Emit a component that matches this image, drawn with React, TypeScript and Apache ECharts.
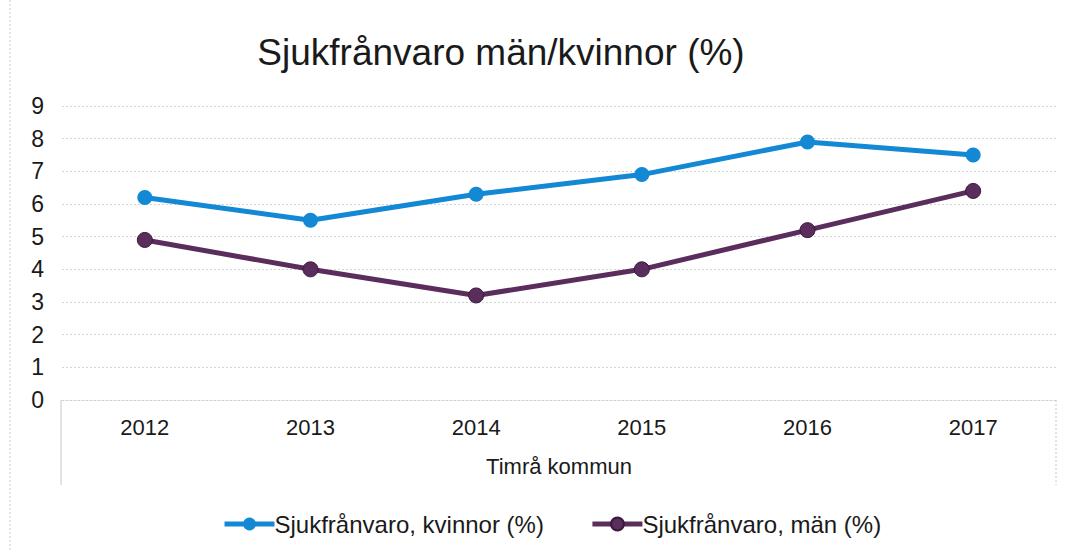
import React, { useEffect, useRef } from "react";
import * as echarts from "echarts";

const years = ["2012", "2013", "2014", "2015", "2016", "2017"];
const kvinnor = [6.2, 5.5, 6.3, 6.9, 7.9, 7.5];
const man = [4.9, 4.0, 3.2, 4.0, 5.2, 6.4];
const seriesNames = ["Sjukfrånvaro, kvinnor (%)", "Sjukfrånvaro, män (%)"];
const titleText = "Sjukfrånvaro män/kvinnor (%)";
const outerCategory = "Timrå kommun";

export default function App() {
  const ref = useRef<HTMLDivElement>(null);
  useEffect(() => {
    if (!ref.current) return;
    const chart = echarts.init(ref.current, null, { renderer: "svg" });
    const font = "Liberation Sans, Arial, sans-serif";
    chart.setOption({
      animation: false,
      backgroundColor: "#ffffff",
      textStyle: { fontFamily: font },
      title: {
        text: titleText,
        left: 496,
        textAlign: "center",
        top: 29,
        textStyle: { fontSize: 37, fontWeight: "normal", color: "#1a1a1a", fontFamily: font },
      },
      grid: { left: 62, right: 20, top: 106, bottom: 152, containLabel: false },
      legend: {
        top: 507,
        left: 217,
        itemWidth: 50,
        itemHeight: 16,
        itemGap: 46,
        lineStyle: { width: 5 },
        textStyle: { fontSize: 24, color: "#1a1a1a", fontFamily: font, padding: [0, 0, 0, -5] },
        data: seriesNames,
      },
      xAxis: {
        type: "category",
        data: years,
        boundaryGap: true,
        name: outerCategory,
        nameLocation: "middle",
        nameGap: 55,
        nameTextStyle: { fontSize: 22, color: "#1a1a1a", fontFamily: font },
        axisLine: { show: true, lineStyle: { color: "#cfcfcf", type: [2, 2], width: 1 } },
        axisTick: { show: false },
        axisLabel: { fontSize: 22, color: "#1a1a1a", margin: 16, fontFamily: font },
      },
      yAxis: {
        type: "value",
        min: 0,
        max: 9,
        interval: 1,
        axisLine: { show: false },
        axisTick: { show: false },
        axisLabel: { fontSize: 23, color: "#1a1a1a", margin: 18, fontFamily: font },
        splitLine: { lineStyle: { color: "#d4d4d4", type: [2, 2], width: 1 } },
      },
      graphic: [
        { type: "line", shape: { x1: 61, y1: 400, x2: 61, y2: 485 }, style: { stroke: "#c8c8c8", lineWidth: 1 } },
        { type: "line", shape: { x1: 1056, y1: 400, x2: 1056, y2: 485 }, style: { stroke: "#c8c8c8", lineWidth: 1, lineDash: [2, 2] } },
        { type: "line", shape: { x1: 10, y1: 0, x2: 10, y2: 552 }, style: { stroke: "#c8c8c8", lineWidth: 1, lineDash: [2, 2] } },
      ],
      series: [
        {
          name: seriesNames[0],
          type: "line",
          data: kvinnor,
          symbol: "circle",
          symbolSize: 15,
          lineStyle: { color: "#1388d4", width: 5 },
          itemStyle: { color: "#1388d4" },
        },
        {
          name: seriesNames[1],
          type: "line",
          data: man,
          symbol: "circle",
          symbolSize: 15,
          lineStyle: { color: "#5a2d5c", width: 5 },
          itemStyle: { color: "#5a2d5c", borderColor: "#3a1a3c", borderWidth: 1 },
        },
      ],
    });
    return () => chart.dispose();
  }, []);
  return (
    <div
      ref={ref}
      style={{ position: "absolute", left: 0, top: 0, width: 1076, height: 552 }}
    />
  );
}
